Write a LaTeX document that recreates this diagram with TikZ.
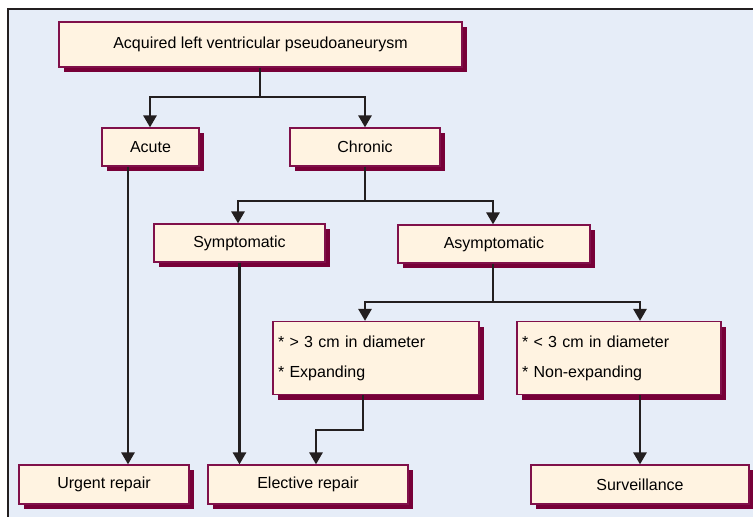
\documentclass[tikz,border=0pt]{standalone}
\usepackage{fontspec}
\setmainfont{Liberation Sans}
\usetikzlibrary{arrows.meta, shadows}
\definecolor{bgblue}{HTML}{E6EDF8}
\definecolor{boxfill}{HTML}{FFF3E1}
\definecolor{boxedge}{HTML}{80104A}
\definecolor{shadowred}{HTML}{770038}
\definecolor{linegray}{HTML}{231F20}
\tikzset{
  box/.style={rectangle, draw=boxedge, fill=boxfill, line width=1.2pt, inner sep=0pt,
    general shadow={fill=shadowred, shadow xshift=5pt, shadow yshift=-5pt}},
  crit/.style={box, inner xsep=5pt, align=left},
  arr/.style={draw=linegray, line width=2.7pt, -{Triangle[width=13pt, length=12pt]}},
  link/.style={draw=linegray, line width=2.7pt}
}

\begin{document}
\begin{tikzpicture}[x=1pt, y=-1pt, font=\fontsize{16}{18}\selectfont]
\useasboundingbox (0,0) rectangle (753,517);
\fill[bgblue] (8,9) rectangle (753,517);
\draw[linegray, line width=2.5pt] (8,517) -- (8,9) -- (753,9);

\node[box, minimum width=403pt, minimum height=45pt] (title) at (260.5,44.5) {Acquired left ventricular pseudoaneurysm};
\node[box, minimum width=97pt, minimum height=38pt] (acute) at (150.5,147) {Acute};
\node[box, minimum width=150pt, minimum height=38pt] (chronic) at (365,147) {Chronic};
\node[box, minimum width=171pt, minimum height=38pt] (sympt) at (239.5,243) {Symptomatic};
\node[box, minimum width=192pt, minimum height=38pt] (asympt) at (494,244) {Asymptomatic};
\node[crit, text width=196pt, minimum height=73pt] (bigcrit) at (376,358) {* > 3 cm in diameter\\[12pt]* Expanding};
\node[crit, text width=194pt, minimum height=73pt] (smallcrit) at (619,358) {* < 3 cm in diameter\\[12pt]* Non-expanding};
\node[box, minimum width=170pt, minimum height=39pt] (urgent) at (104,484.5) {Urgent repair};
\node[box, minimum width=200pt, minimum height=39pt] (elective) at (308,484.5) {Elective repair};
\node[box, minimum width=218pt, minimum height=39pt] (surv) at (640,484.5) {Surveillance};

\coordinate (top) at (260,97);
\coordinate (mid) at (365,201);
\coordinate (low) at (493,302);
\coordinate (bend) at (316,430);

\draw[link] (title.south -| top) -- (top);
\draw[arr] (top) -| (acute.north -| 150,0);
\draw[arr] (top) -| (chronic.north);
\draw[link] (chronic.south) -- (mid);
\draw[arr] (mid) -| (sympt.north -| 238,0);
\draw[arr] (mid) -| (asympt.north -| low);
\draw[link] (asympt.south -| low) -- (low);
\draw[arr] (low) -| (bigcrit.north -| mid);
\draw[arr] (low) -| (smallcrit.north -| surv.north);
\draw[arr] (acute.south -| 128,0) -- (urgent.north -| 128,0);
\draw[arr] (sympt.south) -- (sympt.south |- elective.north);
\draw[arr] (bigcrit.south -| 363,0) |- (bend) -- (bend |- elective.north);
\draw[arr] (smallcrit.south -| surv.north) -- (surv.north);
\end{tikzpicture}
\end{document}
